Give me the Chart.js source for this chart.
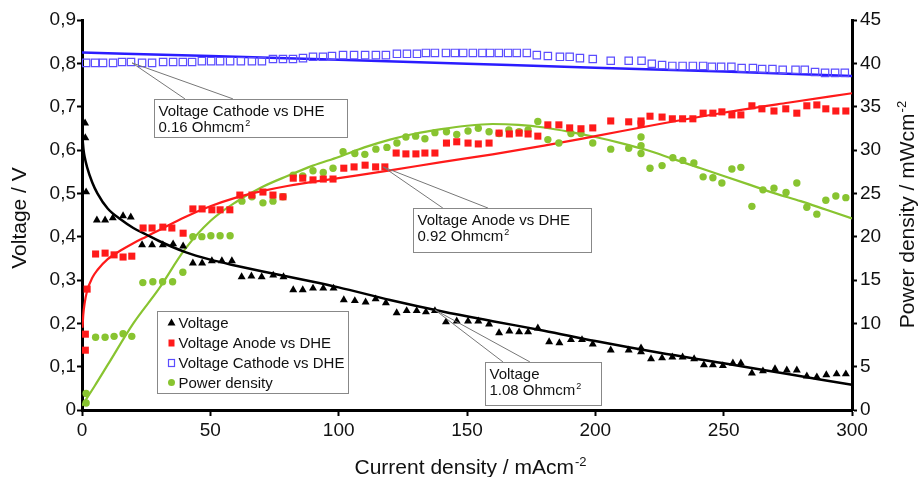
<!DOCTYPE html>
<html>
<head>
<meta charset="utf-8">
<script src="https://cdn.jsdelivr.net/npm/chart.js@4.4.1/dist/chart.umd.min.js"></script>
<style>
html, body { margin: 0; padding: 0; background: #fff; }
</style>
</head>
<body>
<canvas id="myChart" width="920" height="477"></canvas>
<script>
var voltX = [1.2, 1.3, 1.6, 5.8, 9, 12, 16, 19, 23.4, 27.3, 31.5, 35.5, 39.4, 43.2, 46.8, 50.6, 54.5, 58.4,
    62.2, 66, 70, 74.5, 78.5, 82.3, 86, 90, 94, 98, 102, 106.3, 110.5, 114.4, 118.4, 122.6, 126.5, 130.4, 134, 137.5,
    141.8, 146, 150.4, 154.4, 158.6, 162.5, 166.5, 170.3, 173.8, 177.6, 182, 186, 190.5, 194.8, 199,
    206, 213, 217.8, 217.8, 221.7, 226, 230, 234, 238.5, 242.3, 245.8, 249.7, 253.6, 256.7,
    261, 265.3, 270, 274.6, 278.5, 282.4, 286.3, 290, 294, 297.6];
var voltY = [0.662, 0.628, 0.503, 0.438, 0.438, 0.443, 0.448, 0.445, 0.381, 0.381, 0.381, 0.383, 0.378, 0.339, 0.339, 0.344, 0.344, 0.344,
    0.307, 0.309, 0.307, 0.311, 0.307, 0.277, 0.277, 0.281, 0.281, 0.281, 0.254, 0.252, 0.249, 0.256, 0.247, 0.224, 0.229, 0.229, 0.226, 0.229,
    0.203, 0.205, 0.205, 0.205, 0.198, 0.178, 0.182, 0.180, 0.180, 0.189, 0.157, 0.155, 0.162, 0.162, 0.152,
    0.138, 0.138, 0.143, 0.134, 0.118, 0.120, 0.122, 0.122, 0.118, 0.104, 0.104, 0.102, 0.108, 0.108,
    0.085, 0.090, 0.095, 0.092, 0.092, 0.078, 0.076, 0.081, 0.083, 0.083];

var anodeX = [1.3, 1.3, 2, 5.3, 9, 12.5, 16, 19.4, 23.8, 27.3, 31.5, 35, 39.4, 43.2, 46.8, 50.6, 53.8, 57.6,
    61.5, 66.2, 70.5, 74.4, 78.3, 82.3, 86, 90, 94, 97.8, 102, 106, 110.3, 114.4, 118, 122.4, 126.2, 130.1, 133.6, 137.5,
    142, 146, 150.4, 154.4, 158.6, 162.5, 166.5, 170.3, 173.8, 177.6, 181.5, 185.8, 190, 194.4, 199,
    206, 213, 217.8, 217.8, 221.3, 226, 230, 234, 238, 242, 245.8, 249.3, 253.2, 256.7,
    261, 264.9, 269.6, 274.2, 278.5, 282.4, 286.3, 289.8, 293.7, 297.6];
var anodeY = [0.138, 0.175, 0.279, 0.36, 0.362, 0.358, 0.353, 0.355, 0.42, 0.42, 0.422, 0.42, 0.408, 0.464, 0.464, 0.462, 0.462, 0.462,
    0.496, 0.496, 0.503, 0.496, 0.492, 0.535, 0.535, 0.531, 0.533, 0.533, 0.558, 0.561, 0.565, 0.561, 0.561, 0.593, 0.591, 0.591, 0.593, 0.593,
    0.616, 0.619, 0.616, 0.614, 0.616, 0.639, 0.637, 0.639, 0.637, 0.632, 0.658, 0.658, 0.651, 0.649, 0.651,
    0.667, 0.665, 0.667, 0.660, 0.678, 0.676, 0.672, 0.672, 0.672, 0.685, 0.685, 0.688, 0.681, 0.681,
    0.702, 0.695, 0.690, 0.695, 0.685, 0.702, 0.704, 0.695, 0.690, 0.690];

var cathX = [1.6, 5.1, 8.2, 12.1, 15.6, 19.1, 23.4, 27.3, 31.6, 35.5, 39.3, 42.9, 46.7, 50.3, 53.8, 57.7, 61.9, 66.2, 70.1, 74.4, 78.3, 82.2, 86.1, 90, 93.9,
    97.4, 101.7, 106, 110.3, 114.5, 118.4, 122.7, 126.6, 130.5, 134, 137.5, 141.8, 145.3,
    148.5, 152.3, 156, 159, 162.4, 166, 169.4, 173.3, 177.2, 181.5, 186.2, 190, 194, 199, 206, 213, 218,
    222, 226, 230, 234, 238, 242, 245.4, 249, 253, 257, 261.4, 265, 269, 273, 278, 281.6, 285.6, 289.5, 293.4, 297.2];
var cathY = [0.801, 0.801, 0.801, 0.801, 0.803, 0.803, 0.801, 0.801, 0.803, 0.803, 0.803, 0.803, 0.805, 0.805, 0.805, 0.805, 0.805, 0.805, 0.805, 0.81, 0.81, 0.81, 0.812, 0.815, 0.815,
    0.817, 0.819, 0.819, 0.819, 0.819, 0.819, 0.822, 0.822, 0.822, 0.824, 0.824, 0.824, 0.824,
    0.824, 0.824, 0.824, 0.824, 0.824, 0.824, 0.824, 0.824, 0.819, 0.817, 0.815, 0.815, 0.812, 0.81, 0.806, 0.806, 0.806,
    0.799, 0.796, 0.794, 0.794, 0.794, 0.794, 0.792, 0.792, 0.792, 0.789, 0.789, 0.787, 0.787, 0.785, 0.785, 0.785, 0.78, 0.778, 0.778, 0.778];

var powX = [1.6, 1.6, 5.3, 9, 12.5, 16, 19.4, 23.7, 27.6, 31.4, 35.3, 39.3, 43.2, 46.7, 50.2, 53.8, 57.7,
    62.3, 66.2, 70.5, 74.4, 78.3, 82.3, 86, 90, 94, 97.8, 101.7, 106.3, 110.2, 114.5, 118.8, 122.7, 126.2, 130, 133.6, 137.5,
    142, 146, 150.4, 154.4, 158.6, 162.5, 166.3, 170.3, 173.8, 177.6, 181.5, 185.8, 190.5, 194.4, 199,
    206, 213, 217.8, 217.8, 217.8, 221.3, 226, 230.2, 234.1, 238.4, 242, 245.8, 249.3, 253.2, 256.7,
    261, 265.3, 269.6, 274.3, 278.5, 282.4, 286.3, 289.8, 293.7, 297.6];
var powY = [0.8, 1.9, 8.4, 8.4, 8.5, 8.8, 8.5, 14.7, 14.8, 14.8, 14.8, 15.9, 20, 20, 20.1, 20.1, 20.1,
    24.1, 24.6, 23.9, 24.1, 24.6, 27.1, 27, 27.6, 27.4, 27.9, 29.8, 29.6, 29.5, 30.1, 30.3, 30.8, 31.5, 31.6, 31.3, 32,
    32.1, 31.8, 32.2, 32.5, 32.1, 31.9, 32.3, 32.1, 32.3, 33.3, 31.2, 30.8, 31.9, 31.9, 30.8,
    30.1, 30.2, 31.5, 30.5, 29.6, 27.9, 28.2, 29.1, 28.8, 28.5, 26.9, 26.8, 26.2, 27.8, 28,
    23.5, 25.4, 25.6, 25.1, 26.2, 23.4, 22.6, 24.2, 24.7, 24.5];

// fitted curves
var voltFitX = [0.3, 0.6, 1, 2, 4, 6, 10, 15, 20, 25, 30, 40, 50, 60, 70, 80, 90, 100, 120, 140, 160, 180, 200, 225, 250, 275, 300];
var voltFitY = [0.62, 0.6, 0.585, 0.56, 0.525, 0.5, 0.465, 0.44, 0.42, 0.405, 0.39, 0.365, 0.347, 0.333, 0.32, 0.308, 0.296, 0.283, 0.254, 0.228, 0.205, 0.183, 0.159, 0.132, 0.108, 0.083, 0.058];
var anodeFitX = [0.2, 0.5, 1, 2, 4, 6, 10, 15, 20, 25, 30, 40, 50, 60, 70, 80, 100, 120, 140, 160, 180, 200, 225, 250, 275, 300];
var anodeFitY = [0.19, 0.22, 0.245, 0.275, 0.305, 0.323, 0.348, 0.368, 0.385, 0.4, 0.415, 0.445, 0.47, 0.49, 0.505, 0.517, 0.535, 0.553, 0.572, 0.59, 0.61, 0.632, 0.66, 0.686, 0.709, 0.731];
var cathFitX = [0, 50, 100, 150, 200, 250, 300];
var cathFitY = [0.825, 0.817, 0.808, 0.799, 0.79, 0.781, 0.771];
var powFitX = [0, 5, 10, 20, 30, 40, 50, 60, 70, 80, 90, 100, 110, 120, 130, 140, 150, 160, 170, 180, 190, 200, 210, 220, 230, 240, 250, 260, 270, 280, 290, 300];
var powFitY = [0.5, 2.8, 5.2, 10, 14, 18.5, 21.8, 24, 25.7, 27, 28.2, 29.2, 30.3, 31.2, 31.9, 32.4, 32.8, 33, 32.9, 32.6, 32.1, 31.5, 30.8, 30, 29, 28, 27, 26, 25, 24.1, 23.1, 22.1];

var xTicks = [0, 50, 100, 150, 200, 250, 300];

var FONT = '"Liberation Sans", Arial, sans-serif';
var RED = '#ff1a1a', BLUE = '#2a1cff', OPENBLUE = '#5b4dff', GREEN = '#88c430';

function pts(xs, ys) {
    return xs.map(function (x, i) { return { x: x, y: ys[i] }; });
}

// text with a raised part (cm-2 etc.), centred on x
function supText(ctx, main, sup, x, y, size, align) {
    ctx.font = size + 'px ' + FONT;
    var w1 = ctx.measureText(main).width;
    ctx.font = Math.round(size * 0.62) + 'px ' + FONT;
    var w2 = ctx.measureText(sup).width;
    var start = align === 'left' ? x : x - (w1 + w2) / 2;
    ctx.textAlign = 'left';
    ctx.font = size + 'px ' + FONT;
    ctx.fillText(main, start, y);
    ctx.font = Math.round(size * 0.62) + 'px ' + FONT;
    ctx.fillText(sup, start + w1 + 1, y - size * 0.38);
}

var notes = [
    { from: [19.5, 0.801], to: [[40.1, 0.718], [58.8, 0.718]], box: [28.0, 0.718, 103.2, 0.630],
      l1: 'Voltage Cathode vs DHE', l2: '0.16 Ohmcm' },
    { from: [117.3, 0.561], to: [[140.6, 0.466], [158.2, 0.466]], box: [128.9, 0.466, 198.3, 0.365],
      l1: 'Voltage Anode vs DHE', l2: '0.92 Ohmcm' },
    { from: [137.5, 0.231], to: [[164, 0.111], [174.5, 0.111]], box: [157, 0.111, 202.2, 0.0115],
      l1: 'Voltage', l2: '1.08 Ohmcm' }
];

var overlay = {
    id: 'overlay',
    afterDraw: function (chart) {
        var ctx = chart.ctx, sx = chart.scales.x, sy = chart.scales.y;
        ctx.save();
        ctx.fillStyle = '#111';
        ctx.textBaseline = 'alphabetic';

        // callout boxes
        notes.forEach(function (n) {
            var fx = sx.getPixelForValue(n.from[0]), fy = sy.getPixelForValue(n.from[1]);
            ctx.strokeStyle = '#777';
            ctx.lineWidth = 1;
            n.to.forEach(function (t) {
                ctx.beginPath();
                ctx.moveTo(fx, fy);
                ctx.lineTo(sx.getPixelForValue(t[0]), sy.getPixelForValue(t[1]));
                ctx.stroke();
            });
            var x1 = Math.round(sx.getPixelForValue(n.box[0])) + 0.5, y1 = Math.round(sy.getPixelForValue(n.box[1])) + 0.5;
            var x2 = Math.round(sx.getPixelForValue(n.box[2])) + 0.5, y2 = Math.round(sy.getPixelForValue(n.box[3])) + 0.5;
            ctx.fillStyle = '#fff';
            ctx.fillRect(x1, y1, x2 - x1, y2 - y1);
            ctx.strokeStyle = '#888';
            ctx.strokeRect(x1, y1, x2 - x1, y2 - y1);
            ctx.fillStyle = '#111';
            ctx.font = '15px ' + FONT;
            ctx.textAlign = 'left';
            ctx.fillText(n.l1, x1 + 4, y1 + 16);
            supText(ctx, n.l2, '2', x1 + 4, y1 + 32, 15, 'left');
        });

        // legend box
        var lx1 = Math.round(sx.getPixelForValue(29.2)) + 0.5, ly1 = Math.round(sy.getPixelForValue(0.228)) + 0.5;
        var lx2 = Math.round(sx.getPixelForValue(103.6)) + 0.5, ly2 = Math.round(sy.getPixelForValue(0.039)) + 0.5;
        ctx.fillStyle = '#fff';
        ctx.fillRect(lx1, ly1, lx2 - lx1, ly2 - ly1);
        ctx.strokeStyle = '#888';
        ctx.lineWidth = 1;
        ctx.strokeRect(lx1, ly1, lx2 - lx1, ly2 - ly1);
        var labels = chart.data.datasets.filter(function (d) { return d.label; });
        labels.forEach(function (d, i) {
            var cy = ly1 + 11 + i * 20, mx = lx1 + 14;
            ctx.fillStyle = d.backgroundColor;
            ctx.strokeStyle = d.borderColor;
            ctx.beginPath();
            if (d.pointStyle === 'triangle') {
                ctx.moveTo(mx, cy - 4); ctx.lineTo(mx + 4, cy + 3); ctx.lineTo(mx - 4, cy + 3); ctx.closePath(); ctx.fill();
            } else if (d.pointStyle === 'circle') {
                ctx.arc(mx, cy, 3.5, 0, Math.PI * 2); ctx.fill();
            } else if (d.open) {
                ctx.lineWidth = 1.2; ctx.strokeRect(mx - 3, cy - 3, 6, 7);
            } else {
                ctx.fillRect(mx - 3, cy - 3, 6, 7);
            }
            ctx.fillStyle = '#111';
            ctx.font = '15px ' + FONT;
            ctx.textAlign = 'left';
            ctx.textBaseline = 'middle';
            ctx.fillText(d.label, lx1 + 21, cy + 1);
            ctx.textBaseline = 'alphabetic';
        });

        // axis titles
        ctx.fillStyle = '#111';
        supText(ctx, 'Current density / mAcm', '-2', 470, 474, 21);

        ctx.save();
        ctx.translate(26, 218);
        ctx.rotate(-Math.PI / 2);
        ctx.font = '21px ' + FONT;
        ctx.textAlign = 'center';
        ctx.fillText('Voltage / V', 0, 0);
        ctx.restore();

        ctx.save();
        ctx.translate(914, 215);
        ctx.rotate(-Math.PI / 2);
        supText(ctx, 'Power density / mWcm', '-2', 0, 0, 21);
        ctx.restore();

        ctx.restore();
    }
};

var ctx = document.getElementById('myChart').getContext('2d');

var data = {
    datasets: [
        { label: 'Voltage', data: pts(voltX, voltY), yAxisID: 'y', pointStyle: 'triangle', pointRadius: 4.6,
          backgroundColor: '#000', borderColor: '#000', borderWidth: 0 },
        { label: 'Voltage Anode vs DHE', data: pts(anodeX, anodeY), yAxisID: 'y', pointStyle: 'rect', pointRadius: 5,
          backgroundColor: RED, borderColor: RED, borderWidth: 0 },
        { label: 'Voltage Cathode vs DHE', data: pts(cathX, cathY), yAxisID: 'y', pointStyle: 'rect', pointRadius: 5.2, open: true,
          backgroundColor: 'rgba(255,255,255,0)', borderColor: OPENBLUE, borderWidth: 1.2 },
        { label: 'Power density', data: pts(powX, powY), yAxisID: 'y1', pointStyle: 'circle', pointRadius: 3.7,
          backgroundColor: GREEN, borderColor: GREEN, borderWidth: 0 },

        { data: pts(voltFitX, voltFitY), yAxisID: 'y', showLine: true, pointRadius: 0, borderColor: '#000', borderWidth: 2.5,
          cubicInterpolationMode: 'monotone' },
        { data: pts(anodeFitX, anodeFitY), yAxisID: 'y', showLine: true, pointRadius: 0, borderColor: RED, borderWidth: 2.2,
          cubicInterpolationMode: 'monotone' },
        { data: pts(cathFitX, cathFitY), yAxisID: 'y', showLine: true, pointRadius: 0, borderColor: BLUE, borderWidth: 2.5,
          cubicInterpolationMode: 'monotone' },
        { data: pts(powFitX, powFitY), yAxisID: 'y1', showLine: true, pointRadius: 0, borderColor: GREEN, borderWidth: 2.2,
          cubicInterpolationMode: 'monotone' }
    ]
};

var tickFont = { family: FONT, size: 19 };

var options = {
    responsive: false,
    animation: false,
    events: [],
    layout: { padding: { top: 20, left: 0, right: 0, bottom: 0 } },
    plugins: { legend: { display: false }, tooltip: { enabled: false } },
    scales: {
        x: {
            type: 'linear', min: 0, max: 300,
            afterFit: function (s) { s.height = 67; },
            afterBuildTicks: function (s) { s.ticks = xTicks.map(function (v) { return { value: v }; }); },
            border: { color: '#000', width: 3 },
            grid: { drawOnChartArea: false, tickLength: 6, tickWidth: 2, tickColor: '#000' },
            ticks: { font: tickFont, color: '#111', padding: 3, maxRotation: 0 }
        },
        y: {
            position: 'left', min: 0, max: 0.9,
            afterFit: function (s) { s.width = 82; },
            border: { color: '#000', width: 3 },
            grid: { drawOnChartArea: false, tickLength: 5, tickWidth: 2, tickColor: '#000' },
            ticks: { font: tickFont, color: '#111', padding: 1, stepSize: 0.1,
                callback: function (v) { return v === 0 ? '0' : v.toFixed(1).replace('.', ','); } }
        },
        y1: {
            position: 'right', min: 0, max: 45,
            afterFit: function (s) { s.width = 68; },
            border: { color: '#000', width: 3 },
            grid: { drawOnChartArea: false, tickLength: 5, tickWidth: 2, tickColor: '#000' },
            ticks: { font: tickFont, color: '#111', padding: 3, stepSize: 5 }
        }
    }
};

var myChart = new Chart(ctx, {
    type: 'scatter',
    data: data,
    options: options,
    plugins: [overlay]
});
</script>
</body>
</html>
